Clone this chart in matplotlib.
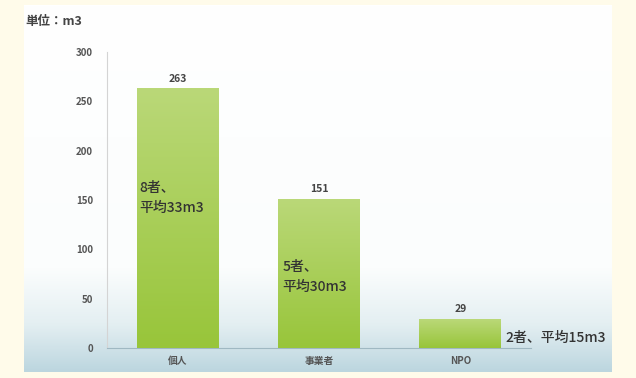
import numpy as np
from matplotlib import pyplot as plt
from matplotlib.colors import LinearSegmentedColormap

plt.rcParams['font.family'] = ['Noto Sans CJK JP', 'DejaVu Sans']

categories = ["個人", "事業者", "NPO"]
volumes = [263, 151, 29]
notes = ["8者、\n平均33m3", "5者、\n平均30m3", "2者、平均15m3"]
unit_label = "単位：m3"


def main() -> None:
    fig = plt.figure(figsize=(6.36, 3.78), dpi=100, facecolor="#fffbea")

    # panel background: white fading into pale blue at the bottom
    bg = fig.add_axes([24 / 636, 6 / 378, 588 / 636, 367 / 378])
    bg_cmap = LinearSegmentedColormap.from_list(
        "bg", [(0, "#ffffff"), (0.72, "#fbfdfd"), (0.87, "#e4eff2"), (1, "#bcd6df")])
    grad = np.linspace(0, 1, 256).reshape(-1, 1)
    bg.imshow(grad, aspect="auto", cmap=bg_cmap, extent=(0, 1, 1, 0))
    bg.set_axis_off()

    ax = fig.add_axes([107 / 636, 30 / 378, 424 / 636, 296 / 378])
    ax.patch.set_alpha(0)
    x = np.arange(len(categories))
    width = 0.58

    bar_cmap = LinearSegmentedColormap.from_list("bar", ["#98c53a", "#bad878"])
    bars = ax.bar(x, volumes, width=width, color="#a8cd55", zorder=2)
    for rect, v in zip(bars, volumes):
        x0 = rect.get_x()
        ax.imshow(np.linspace(0, 1, 128).reshape(-1, 1), cmap=bar_cmap, origin="lower",
                  aspect="auto", extent=(x0, x0 + width, 0, v), zorder=3)
        ax.text(rect.get_x() + width / 2, v + 5, str(v), ha="center", va="bottom",
                fontsize=7.5, fontweight="bold", color="#444444")

    note_style = dict(ha="left", va="center", fontsize=10, fontweight="medium",
                      color="#333333", zorder=4)
    ax.text(x[0] - width / 2 + 0.02, 152, notes[0], linespacing=1.6, **note_style)
    ax.text(x[1] - width / 2 + 0.03, 72, notes[1], linespacing=1.5, **note_style)
    ax.text(x[2] + width / 2 + 0.03, 10, notes[2], **note_style)

    ax.set_xlim(-0.5, 2.5)
    ax.set_ylim(0, 300)
    ax.set_yticks(range(0, 301, 50))
    ax.set_xticks(x)
    ax.set_xticklabels(categories, fontweight="bold")
    for lbl in ax.get_yticklabels():
        lbl.set_fontweight("bold")
    ax.tick_params(axis="both", length=0, labelsize=7, labelcolor="#555555")
    ax.tick_params(axis="y", pad=10)
    ax.tick_params(axis="x", pad=6)
    for side in ("top", "right"):
        ax.spines[side].set_visible(False)
    ax.spines["left"].set_color("#d4d4d4")
    ax.spines["bottom"].set_color("#9fb8c2")

    fig.text(25 / 636, 1 - 22 / 378, unit_label, ha="left", va="center",
             fontsize=9, fontweight="bold", color="#444444")

    fig.savefig("out.png", dpi=100, facecolor=fig.get_facecolor())


if __name__ == "__main__":
    main()
